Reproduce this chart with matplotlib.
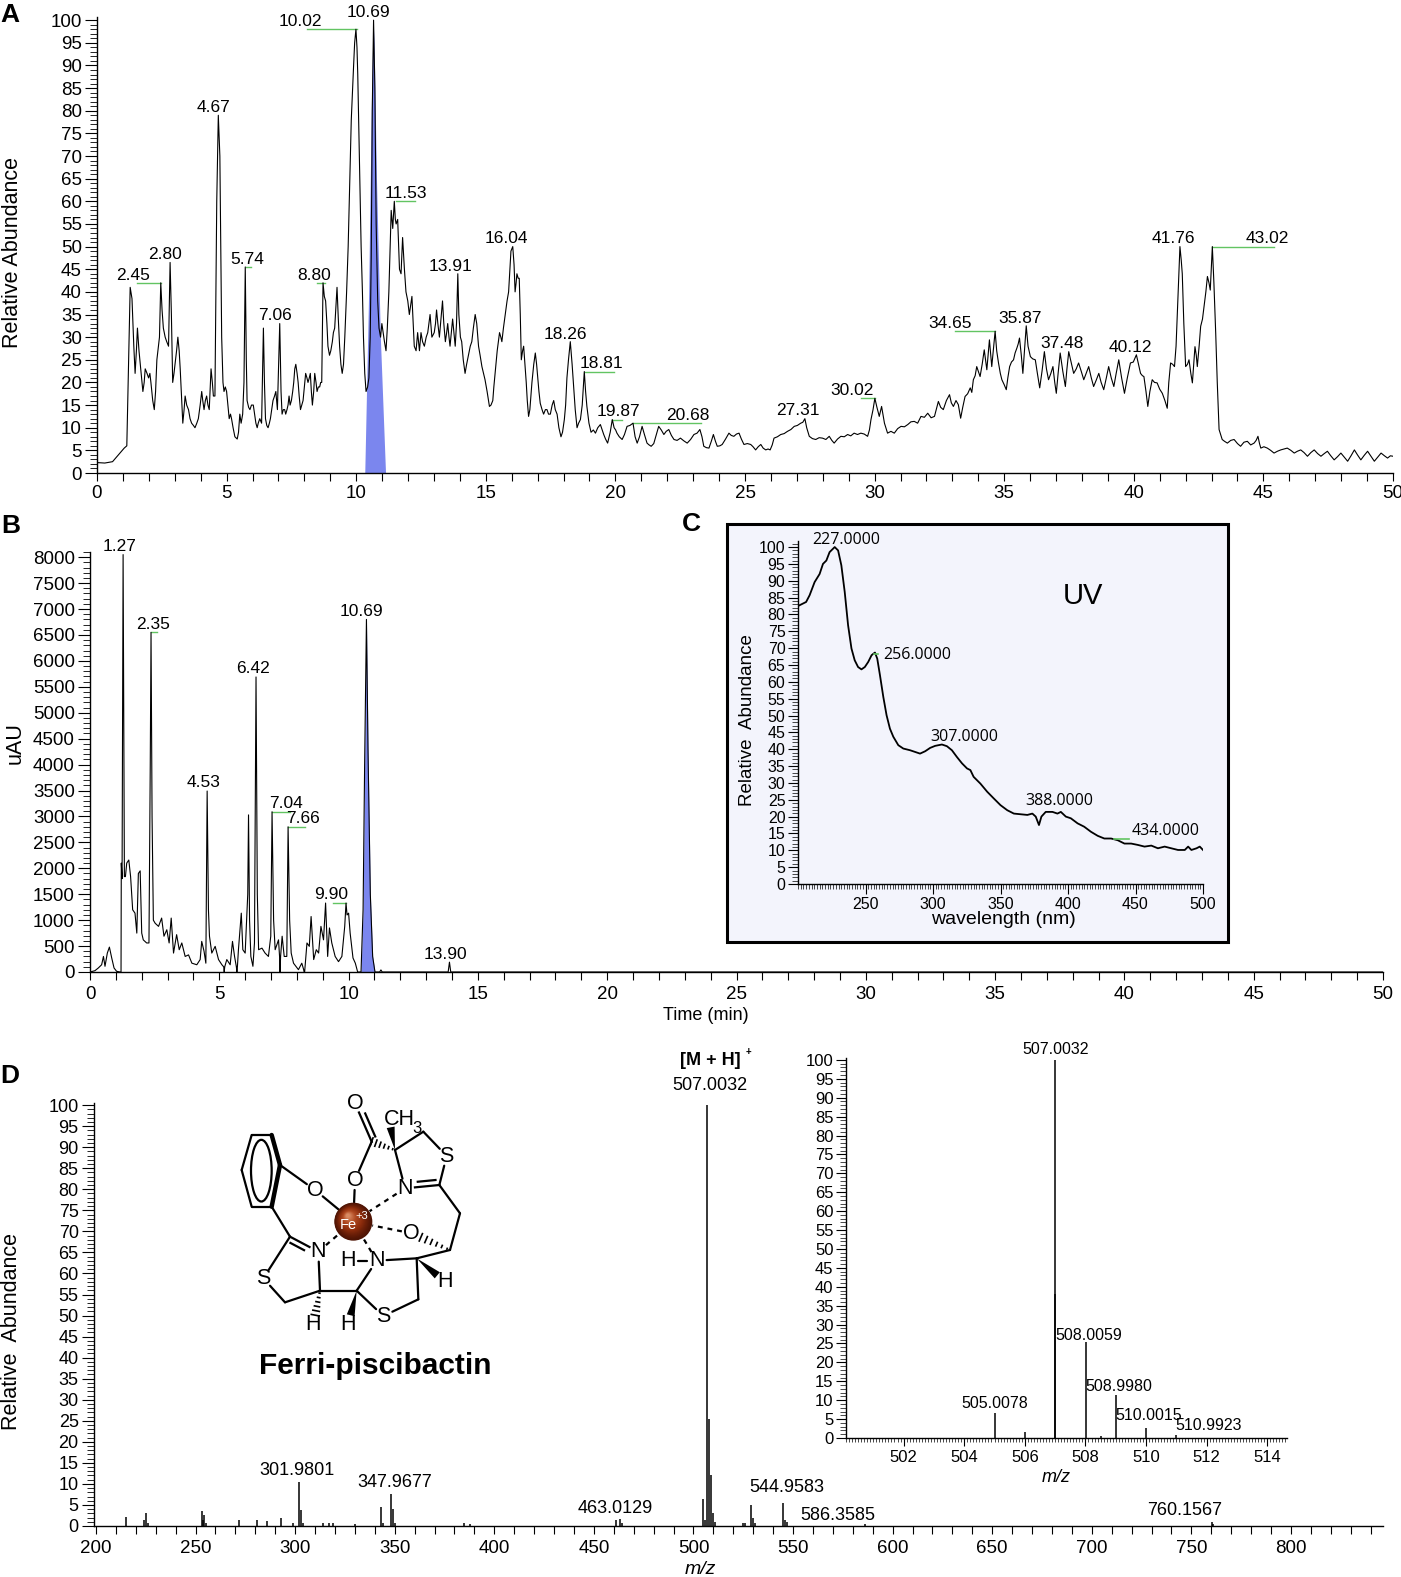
import numpy as np
import matplotlib
matplotlib.use("Agg")
import matplotlib.pyplot as plt
from matplotlib.ticker import MultipleLocator
from matplotlib.patches import Rectangle, Circle, Polygon, Ellipse
from matplotlib.colors import LinearSegmentedColormap

# ---------------- data: panel A (TIC, relative abundance vs time) ----------------
a_time = [0.0, 0.3, 0.6, 0.75, 0.95, 1.05, 1.15, 1.22, 1.28, 1.35, 1.42, 1.47, 1.52, 1.56, 1.62, 1.67, 1.72, 1.77,
          1.82, 1.86, 1.93, 1.99, 2.04, 2.08, 2.15, 2.21, 2.26, 2.31, 2.37, 2.41, 2.46, 2.51, 2.56, 2.63, 2.69, 2.76,
          2.82, 2.87, 2.92, 2.97, 3.01, 3.07, 3.12, 3.17, 3.21, 3.26, 3.31, 3.36, 3.40, 3.46, 3.53, 3.59, 3.65, 3.72,
          3.78, 3.85, 3.91, 3.98, 4.04, 4.08, 4.13, 4.18, 4.23, 4.28, 4.33, 4.40, 4.45, 4.49, 4.55, 4.62, 4.68, 4.74,
          4.81, 4.86, 4.90, 4.95, 5.00, 5.05, 5.10, 5.15, 5.19, 5.25, 5.32, 5.41, 5.46, 5.51, 5.56, 5.62, 5.67, 5.72,
          5.76, 5.79, 5.85, 5.90, 5.96, 6.03, 6.08, 6.13, 6.18, 6.22, 6.28, 6.35, 6.42, 6.46, 6.50, 6.55, 6.60, 6.65,
          6.69, 6.74, 6.79, 6.85, 6.90, 6.96, 7.05, 7.10, 7.14, 7.19, 7.24, 7.28, 7.33, 7.37, 7.41, 7.45, 7.50, 7.55,
          7.59, 7.63, 7.67, 7.72, 7.76, 7.80, 7.85, 7.90, 7.95, 8.00, 8.05, 8.10, 8.14, 8.19, 8.23, 8.27, 8.31, 8.36,
          8.40, 8.45, 8.49, 8.54, 8.59, 8.63, 8.67, 8.72, 8.77, 8.82, 8.87, 8.91, 8.97, 9.02, 9.08, 9.12, 9.17, 9.22,
          9.26, 9.31, 9.36, 9.41, 9.46, 9.51, 9.56, 9.63, 9.69, 9.75, 9.81, 9.86, 9.90, 9.94, 9.99, 10.03, 10.06,
          10.12, 10.19, 10.24, 10.28, 10.33, 10.38, 10.44, 10.49, 10.54, 10.58, 10.62, 10.67, 10.72, 10.77, 10.83,
          10.88, 10.94, 10.99, 11.04, 11.09, 11.15, 11.20, 11.26, 11.31, 11.35, 11.41, 11.47, 11.51, 11.54, 11.60,
          11.67, 11.73, 11.79, 11.86, 11.92, 11.99, 12.05, 12.10, 12.15, 12.20, 12.24, 12.31, 12.37, 12.44, 12.50,
          12.56, 12.63, 12.70, 12.76, 12.85, 12.92, 13.01, 13.06, 13.10, 13.15, 13.21, 13.27, 13.33, 13.38, 13.44,
          13.49, 13.53, 13.58, 13.62, 13.67, 13.72, 13.77, 13.82, 13.87, 13.92, 13.96, 14.02, 14.07, 14.13, 14.20,
          14.26, 14.33, 14.40, 14.46, 14.52, 14.59, 14.65, 14.72, 14.78, 14.85, 14.91, 14.97, 15.05, 15.14, 15.20,
          15.27, 15.31, 15.36, 15.44, 15.53, 15.58, 15.62, 15.68, 15.75, 15.82, 15.88, 15.93, 15.97, 16.04, 16.09,
          16.13, 16.17, 16.20, 16.25, 16.29, 16.33, 16.37, 16.42, 16.46, 16.51, 16.56, 16.60, 16.65, 16.70, 16.78,
          16.85, 16.91, 16.96, 17.01, 17.05, 17.10, 17.17, 17.23, 17.30, 17.36, 17.42, 17.49, 17.56, 17.62, 17.68,
          17.75, 17.82, 17.90, 17.96, 18.03, 18.08, 18.13, 18.19, 18.26, 18.33, 18.39, 18.45, 18.52, 18.58, 18.65,
          18.72, 18.80, 18.85, 18.90, 18.98, 19.06, 19.15, 19.23, 19.32, 19.42, 19.49, 19.55, 19.62, 19.70, 19.80,
          19.88, 19.95, 20.01, 20.06, 20.15, 20.26, 20.35, 20.45, 20.56, 20.68, 20.76, 20.84, 20.93, 21.03, 21.12,
          21.22, 21.30, 21.38, 21.48, 21.58, 21.67, 21.77, 21.87, 21.96, 22.06, 22.16, 22.26, 22.38, 22.51, 22.64,
          22.77, 22.90, 23.03, 23.15, 23.26, 23.34, 23.41, 23.51, 23.61, 23.70, 23.78, 23.86, 23.93, 24.03, 24.12,
          24.25, 24.38, 24.47, 24.57, 24.67, 24.77, 24.86, 24.96, 25.09, 25.22, 25.31, 25.41, 25.51, 25.61, 25.70,
          25.80, 25.89, 25.97, 26.05, 26.12, 26.25, 26.38, 26.51, 26.64, 26.77, 26.90, 27.02, 27.15, 27.23, 27.31,
          27.38, 27.48, 27.60, 27.73, 27.86, 27.99, 28.12, 28.25, 28.35, 28.44, 28.57, 28.70, 28.83, 28.96, 29.08,
          29.21, 29.34, 29.47, 29.60, 29.73, 29.80, 29.86, 29.94, 30.01, 30.09, 30.18, 30.27, 30.38, 30.50, 30.63,
          30.76, 30.89, 31.02, 31.15, 31.28, 31.40, 31.53, 31.66, 31.79, 31.92, 32.05, 32.18, 32.31, 32.46, 32.55,
          32.65, 32.77, 32.89, 32.96, 33.04, 33.14, 33.23, 33.32, 33.40, 33.49, 33.59, 33.69, 33.75, 33.81, 33.88,
          33.94, 34.00, 34.07, 34.15, 34.23, 34.28, 34.33, 34.38, 34.43, 34.48, 34.52, 34.58, 34.65, 34.71, 34.78,
          34.85, 34.91, 35.00, 35.08, 35.14, 35.21, 35.28, 35.36, 35.42, 35.49, 35.54, 35.59, 35.66, 35.72, 35.78,
          35.85, 35.92, 36.01, 36.10, 36.20, 36.28, 36.37, 36.46, 36.55, 36.63, 36.71, 36.80, 36.88, 36.95, 37.01,
          37.08, 37.16, 37.26, 37.36, 37.42, 37.49, 37.58, 37.68, 37.78, 37.87, 37.97, 38.07, 38.16, 38.26, 38.36,
          38.45, 38.55, 38.65, 38.74, 38.84, 38.94, 39.03, 39.13, 39.23, 39.32, 39.42, 39.53, 39.64, 39.75, 39.87,
          39.98, 40.10, 40.18, 40.26, 40.33, 40.39, 40.47, 40.54, 40.62, 40.71, 40.80, 40.90, 41.00, 41.10, 41.20,
          41.29, 41.35, 41.42, 41.50, 41.57, 41.63, 41.68, 41.73, 41.78, 41.83, 41.87, 41.93, 42.00, 42.07, 42.13,
          42.20, 42.26, 42.31, 42.36, 42.41, 42.45, 42.52, 42.58, 42.65, 42.71, 42.78, 42.84, 42.90, 42.95, 42.99,
          43.03, 43.09, 43.16, 43.22, 43.29, 43.35, 43.41, 43.50, 43.61, 43.74, 43.87, 44.00, 44.12, 44.25, 44.38,
          44.51, 44.64, 44.72, 44.79, 44.85, 44.90, 45.02, 45.15, 45.28, 45.41, 45.54, 45.67, 45.80, 45.92, 46.06,
          46.19, 46.31, 46.44, 46.57, 46.70, 46.83, 46.96, 47.09, 47.22, 47.35, 47.47, 47.60, 47.73, 47.86, 47.99,
          48.12, 48.25, 48.38, 48.51, 48.63, 48.76, 48.89, 49.02, 49.15, 49.28, 49.41, 49.54, 49.67, 49.79, 49.90,
          50.00]
a_abund = [2.3, 2.2, 2.5, 3.5, 4.8, 5.5, 6, 25, 41, 38.5, 28, 22, 27, 32, 27, 24, 21, 18,
           20, 23, 22, 21, 22, 20, 16, 14, 18, 25, 28, 30, 42, 36, 32, 30, 29, 28,
           46.5, 35, 20, 22, 24, 27, 30, 27, 23, 17, 11, 14, 17, 15, 14, 12, 11, 10.5,
           10, 11, 12, 15, 18, 16, 14, 16, 17, 15, 14, 23, 20, 17, 17, 60, 79, 70,
           30, 20, 18, 19, 18, 15, 12, 13, 12, 10, 8, 7.5, 9, 13, 11, 13, 20, 45.5,
           25, 16, 14.5, 14, 15, 15, 13, 11, 10, 11, 12, 11, 32, 20, 12, 10.5, 10, 11,
           12, 14, 16, 17, 18, 14, 33, 18, 13, 14, 14, 13, 14, 15, 17, 15, 16, 18,
           20, 23, 24, 22, 20, 17, 14, 15, 16, 19, 22, 21, 20, 21, 22, 18, 15, 18,
           22, 20, 18, 19, 19, 20, 20, 42, 39, 38, 33, 28, 26, 27, 29, 31, 32, 37,
           41, 34, 28, 24, 22, 24, 30, 40, 50, 64, 78, 85, 90, 95, 98, 94, 88,
           70, 50, 40, 30, 22, 18, 19, 21, 30, 48, 80, 100, 85, 55, 38,
           32, 30, 33, 31, 29, 27, 32, 40, 50, 58, 54, 60, 56, 55, 56,
           45, 44, 52, 45, 40, 38, 35, 37, 39, 33, 28, 27, 31, 27, 31,
           29, 28, 30, 31, 35, 30, 31, 33, 36, 33, 30, 34, 38, 33, 29,
           31, 33, 30, 28, 31, 34, 31, 28, 33, 44, 35, 30, 29, 25, 22,
           24, 26, 28, 29, 32, 35, 33, 28, 26, 23.5, 22, 20.6, 18, 14.7, 15,
           16, 19, 22, 27, 31, 30, 29, 32, 35, 38, 40, 45, 49, 50, 46,
           40, 42, 44, 43, 43, 35, 25, 27, 28, 24, 20, 16, 12.5, 14, 20,
           24, 26.5, 24, 20.6, 18, 15.4, 14, 13, 14, 14, 13, 13, 15, 16, 14,
           13, 10, 8, 9, 11.8, 15, 21, 25, 29, 24, 19, 14, 10, 11, 11.8,
           15, 22.4, 18, 14.7, 11, 9, 9.5, 8.8, 10, 10.7, 9.5, 8.5, 7.5, 6.6, 9,
           11.8, 10, 9.5, 8.8, 8, 7.4, 8.5, 10.3, 10.5, 11, 8, 6.6, 8, 10.3, 8.5,
           6.6, 6.2, 5.9, 6.5, 8.5, 10.3, 9.5, 8.5, 9.2, 9.6, 8.3, 7.4, 7.2, 7.7, 7.1,
           6.6, 7.4, 8.5, 8.8, 9.6, 8, 5.9, 5.6, 5.5, 7, 8.5, 7, 5.9, 6, 6.3,
           7.5, 8.8, 8.3, 8.1, 8.6, 8.8, 7.5, 6.3, 6.5, 6.3, 5.8, 5.1, 5.8, 6.3, 5.5,
           5.1, 5.3, 5.1, 6.2, 7.7, 8, 8.5, 8.7, 9.2, 9.6, 10.3, 10.5, 11, 11.2, 12,
           10, 8.1, 7.6, 7.4, 7.8, 7.7, 7.4, 8.1, 7.2, 6.6, 7.5, 8.1, 8, 8.5, 8.2,
           8.8, 8.5, 8.8, 8.6, 8.1, 9.5, 11.8, 14, 16.5, 14.5, 12.5, 14.7, 11, 8.8, 9.2,
           8.8, 9.8, 10.3, 10.2, 10.7, 11.3, 11.4, 11, 12.5, 12.3, 13.2, 12.2, 12.5, 15.8, 14.5,
           14, 16, 17.3, 15.5, 14.7, 16, 15.1, 12.1, 14.5, 16.9, 17.5, 18.8, 17.8, 20.6, 21.5,
           23.5, 22.5, 21.3, 24, 27.2, 25, 22.8, 26, 29.4, 26, 23.5, 27, 31.3, 27, 24.3,
           22, 20.6, 19.5, 18.4, 21, 23.5, 24.5, 25, 26.5, 27.6, 28.5, 29.8, 26, 22, 27,
           32.5, 28, 25.7, 25.2, 25, 22, 18.8, 22.5, 26.8, 23, 20.6, 22, 23.5, 20, 17.6,
           22, 26.5, 22.5, 19.1, 23, 26.8, 24.5, 22, 23, 24.3, 22.5, 20.6, 22, 23.5, 21,
           19.1, 20.5, 22, 20, 18.4, 21, 23.5, 21, 19.1, 22, 25, 21, 17.6, 21, 24.3,
           24.5, 26.1, 24, 22, 21.5, 21.3, 18, 14.7, 18, 20.6, 20, 19.9, 18.5, 17.6, 16,
           14.3, 20, 24.3, 24, 23.5, 28, 35.3, 43, 50, 47, 44, 33, 23.5, 24, 25,
           22, 19.9, 24, 27.9, 26, 23.5, 28, 32.4, 34, 36.8, 40, 43.4, 42, 40.4, 45,
           50, 42, 30.9, 20, 9.6, 8.5, 7.4, 7, 6.6, 7.2, 7.4, 6.5, 5.9, 6.8, 7,
           6.2, 6.6, 7.2, 8.1, 6.5, 5.5, 5.8, 5.5, 5, 4.4, 4.8, 5.1, 5.3, 5.5, 5,
           4.4, 4.8, 5.1, 4.5, 3.7, 4.5, 5.1, 4.3, 3.7, 4.3, 4.8, 3.8, 2.9, 3.6, 4.4,
           3.5, 2.6, 3.8, 5.1, 4, 2.9, 3.9, 4.8, 3.7, 2.6, 3.5, 4.4, 3.8, 3.3, 3.8,
           3.7]
# extracted peak (blue) under the 10.69 min trace
a_xic_time = [10.35, 10.50, 10.60, 10.67, 10.71, 10.80, 10.95, 11.15]
a_xic_abund = [0, 40, 80, 100, 95, 65, 30, 0]
a_peaks = [2.45, 2.80, 4.67, 5.74, 7.06, 8.80, 10.02, 10.69, 11.53, 13.91, 16.04, 18.26, 18.81,
           19.87, 20.68, 27.31, 30.02, 34.65, 35.87, 37.48, 40.12, 41.76, 43.02]

# ---------------- data: panel B (UV chromatogram, uAU) ----------------
b_time = [0.00, 0.19, 0.32, 0.45, 0.52, 0.58, 0.67, 0.75, 0.84, 0.93, 1.03, 1.16, 1.20, 1.21, 1.24, 1.28,
          1.33, 1.37, 1.42, 1.50, 1.57, 1.65, 1.74, 1.81, 1.87, 1.94, 2.00, 2.06, 2.19, 2.28, 2.33, 2.36,
          2.40, 2.45, 2.52, 2.65, 2.77, 2.86, 2.97, 3.06, 3.14, 3.23, 3.35, 3.45, 3.55, 3.68, 3.81, 3.94,
          4.13, 4.26, 4.32, 4.41, 4.48, 4.53, 4.58, 4.62, 4.71, 4.84, 4.97, 5.10, 5.17, 5.19, 5.21, 5.29,
          5.42, 5.51, 5.59, 5.66, 5.68, 5.70, 5.74, 5.85, 5.91, 6.00, 6.10, 6.13, 6.17, 6.22, 6.30, 6.36,
          6.42, 6.47, 6.52, 6.65, 6.77, 6.90, 6.99, 7.04, 7.10, 7.16, 7.29, 7.33, 7.35, 7.37, 7.43, 7.51,
          7.61, 7.66, 7.72, 7.78, 7.87, 8.06, 8.19, 8.26, 8.28, 8.30, 8.39, 8.48, 8.55, 8.65, 8.75, 8.84,
          8.93, 9.03, 9.11, 9.19, 9.26, 9.35, 9.48, 9.61, 9.74, 9.85, 9.90, 9.94, 10.00, 10.06, 10.17,
          10.26, 10.35, 10.48, 10.56, 10.62, 10.69, 10.75, 10.84, 10.93, 11.02, 11.20, 11.25, 11.30,
          13.85, 13.90, 13.95, 50.0]
b_uau = [0, 25, 77, 140, 300, 110, 365, 480, 270, 77, 13, 0, 0, 2100, 1800, 8050,
         1840, 1840, 2100, 2160, 1840, 1200, 1135, 750, 1900, 1950, 750, 620, 560, 560, 4000, 6550,
         3000, 1000, 940, 880, 1040, 690, 815, 560, 1040, 365, 720, 430, 560, 300, 330, 170,
         140, 240, 590, 400, 170, 3490, 1200, 690, 365, 495, 240, 140, 100, 0, 100, 240,
         140, 590, 300, 100, 0, 100, 430, 1135, 430, 365, 1500, 3030, 1000, 300, 110, 560,
         5690, 1500, 430, 460, 365, 300, 690, 3090, 1000, 430, 620, 300, 0, 300, 690, 300,
         300, 2800, 1000, 365, 170, 45, 170, 50, 0, 0, 560, 495, 1070, 240, 430, 365,
         880, 620, 1330, 300, 850, 560, 300, 200, 300, 880, 1330, 1100, 1135, 750, 270,
         170, 0, 0, 1200, 4000, 6800, 4300, 1500, 300, 0, 0, 40, 0,
         0, 190, 0, 0]
b_peaks = [1.28, 2.36, 4.53, 6.42, 7.04, 7.66, 9.90, 10.69, 13.90]
b_peak_names = ["1.27", "2.35", "4.53", "6.42", "7.04", "7.66", "9.90", "10.69", "13.90"]

# ---------------- data: panel C (UV spectrum) ----------------
uv_nm = [200, 206, 208.6, 212.3, 216, 218.5, 221, 223.4, 227.2, 229.7, 232.1, 234.6, 237.1, 239.6, 242,
         244.5, 247, 249.5, 252, 254.5, 257, 258.7, 260.7, 263.2, 265.6, 268.1, 270.6, 274.3, 278, 283,
         286.7, 290.4, 294.2, 297.9, 301.6, 306.6, 310.3, 314, 317.7, 321.5, 325.2, 327.7, 330.1, 335.1,
         340.1, 345, 350, 355, 359.9, 364.9, 369.9, 373.6, 376.1, 378.5, 380.3, 383.5, 388.5, 392.2, 394.7,
         398.4, 402.1, 407.1, 412, 417, 422, 426.9, 431.9, 436.8, 441.8, 446.8, 451.7, 456.7, 461.7, 466.6,
         471.6, 476.5, 481.5, 486.5, 489, 491.4, 495.2, 497.6, 500]
uv_abund = [82.5, 83.7, 85.7, 89.6, 92, 95, 96, 98.5, 100, 99, 94.6, 86.7, 76.8, 69.9, 66.4,
            64.4, 63.7, 64.4, 65.9, 67.9, 68.7, 66.9, 62, 55.5, 50.1, 46.1, 43.7, 41.2, 40.2, 39.7,
            39.2, 38.7, 39.4, 40.4, 41, 41.4, 40.9, 39.7, 37.7, 35.8, 34.3, 33.8, 31.8, 29.8,
            27.4, 25.4, 23.4, 21.9, 20.9, 20.7, 20.5, 20.9, 20, 17.5, 20, 21.4, 21.4, 20.9, 21.4,
            20, 19.5, 18, 17, 15.5, 14.3, 13.5, 13.5, 13, 12, 12, 11.6, 11.1, 11.4, 10.6,
            11.1, 10.6, 10.1, 10.1, 11.1, 10.1, 10.6, 11.1, 10.1]
uv_peaks = [227, 256, 307, 388, 434]

# ---------------- data: panel D (HRMS spectrum) ----------------
ms_mz = [214.9, 224.0, 225.0, 226.0, 253.0, 253.5, 254.0, 255.0, 272.0, 281.0, 286.0, 293.0, 299.0,
         301.98, 303.0, 304.0, 314.0, 317.0, 319.0, 330.0, 343.0, 344.0, 347.97, 349.0, 350.0, 385.0,
         388.0, 461.0, 463.01, 464.0, 505.0, 506.0, 507.0, 508.0, 509.0, 510.0, 511.0, 525.0, 526.0,
         529.0, 530.0, 531.0, 544.96, 546.0, 547.0, 586.36, 760.16, 761.0]
ms_abund = [2.2, 1.5, 3.0, 0.6, 3.5, 1.5, 2.5, 0.8, 1.5, 1.5, 1.3, 1.8, 0.6,
            10.5, 3.8, 0.8, 0.6, 0.8, 0.8, 0.5, 4.5, 0.7, 7.5, 4.0, 0.8, 0.6,
            0.5, 1.5, 1.6, 0.6, 6.5, 1.5, 100, 25.5, 12.0, 3.0, 1.0, 0.8, 0.6,
            5.0, 2.0, 0.8, 5.5, 1.5, 1.0, 0.4, 1.0, 0.4]
ms_labels = ["301.9801", "347.9677", "463.0129", "507.0032", "544.9583", "586.3585", "760.1567"]
iso_mz = [505.0078, 506.0, 506.98, 507.0032, 508.0059, 508.5, 508.9980, 510.0015, 510.9923]
iso_abund = [6.5, 1.7, 38, 100, 25.5, 0.4, 11.5, 2.7, 0.9]
iso_labels = ["505.0078", "507.0032", "508.0059", "508.9980", "510.0015", "510.9923"]

# ---------------- layout helpers ----------------
W, H = 1401, 1577
plt.rcParams["font.family"] = ["Liberation Sans", "DejaVu Sans"]
NARROW = ["Liberation Sans Narrow", "Liberation Sans", "DejaVu Sans"]
GREEN = "#62c462"
BLUE = "#7b86ee"

fig = plt.figure(figsize=(W / 100, H / 100), dpi=100)


def box(left, top, right, bottom):
    return [left / W, 1 - bottom / H, (right - left) / W, (bottom - top) / H]


def ftext(x, y, s, **kw):
    fig.text(x / W, 1 - y / H, s, **kw)


def clean(ax):
    ax.spines["top"].set_visible(False)
    ax.spines["right"].set_visible(False)
    for s in ("left", "bottom"):
        ax.spines[s].set_linewidth(1.0)
    ax.set_facecolor("none")


def local_max(t, xs, ys, win):
    xs, ys = np.asarray(xs), np.asarray(ys)
    m = (xs >= t - win) & (xs <= t + win)
    return ys[m].max()


# ================= panel A =================
ax_a = fig.add_axes(box(97, 17, 1393, 473))
clean(ax_a)
ax_a.fill(a_xic_time, a_xic_abund, color=BLUE, lw=0, zorder=1)
ax_a.plot(a_time, a_abund, color="black", lw=0.8, zorder=2)
ax_a.set_xlim(0, 50)
ax_a.set_ylim(0, 100.7)
ax_a.xaxis.set_major_locator(MultipleLocator(5))
ax_a.xaxis.set_minor_locator(MultipleLocator(1))
ax_a.yaxis.set_major_locator(MultipleLocator(5))
ax_a.yaxis.set_minor_locator(MultipleLocator(1))
ax_a.tick_params(axis="y", which="major", length=9, width=0.8, labelsize=13.5, pad=2, labelfontfamily=NARROW)
ax_a.tick_params(axis="y", which="minor", length=5, width=0.6)
ax_a.tick_params(axis="x", which="both", length=6, width=0.8, labelsize=13.5, pad=3, labelfontfamily=NARROW)

# label layout (text offset in min, other end of green leader or None)
a_dx = [-1.04, -0.18, -0.19, 0.04, -0.19, -0.43, -2.16, -0.23, 0.40, -0.28, -0.23, -0.19, 0.64,
        0.23, 2.10, -0.26, -0.90, -1.75, -0.26, -0.25, -0.24, -0.24, 2.15]
a_lead = [1.54, None, None, 5.93, None, 8.47, 8.09, None, 12.26, None, None, None, 19.94,
          20.26, 23.29, None, 29.47, 33.1, None, None, None, None, 45.41]
for t, dx, lead in zip(a_peaks, a_dx, a_lead):
    v = local_max(t, a_time, a_abund, 0.12)
    ax_a.text(t + dx, v + 0.7, f"{t:.2f}", ha="center", va="baseline", fontsize=12.5)
    if lead is not None:
        ax_a.plot([t, lead], [v, v], color=GREEN, lw=1.0, zorder=1)

ftext(13, 252, "Relative Abundance", rotation=90, ha="center", va="center", fontsize=15.5)
ftext(10, 15, "A", ha="center", va="center", fontsize=19, fontweight="bold")

# ================= panel B =================
ax_b = fig.add_axes(box(90, 552, 1383, 972))
clean(ax_b)
b_t = np.asarray(b_time)
b_v = np.asarray(b_uau)
sel = (b_t >= 10.45) & (b_t <= 11.05)
ax_b.fill_between(b_t[sel], 0, b_v[sel], color=BLUE, lw=0, zorder=1)
ax_b.plot(b_time, b_uau, color="black", lw=0.8, zorder=2)
ax_b.set_xlim(0, 50)
ax_b.set_ylim(0, 8100)
ax_b.xaxis.set_major_locator(MultipleLocator(5))
ax_b.xaxis.set_minor_locator(MultipleLocator(1))
ax_b.yaxis.set_major_locator(MultipleLocator(500))
ax_b.yaxis.set_minor_locator(MultipleLocator(100))
ax_b.tick_params(axis="y", which="major", length=9, width=0.8, labelsize=13.5, pad=2)
ax_b.tick_params(axis="y", which="minor", length=5, width=0.6)
ax_b.tick_params(axis="x", which="both", length=6, width=0.8, labelsize=13.5, pad=4)

b_dx = [-0.12, 0.08, -0.15, -0.12, 0.53, 0.56, -0.56, -0.19, -0.16]
b_lead = [None, 2.58, None, None, 7.73, 8.31, 9.41, None, None]
for t, name, dx, lead in zip(b_peaks, b_peak_names, b_dx, b_lead):
    v = local_max(t, b_time, b_uau, 0.06)
    ax_b.text(t + dx, v + 70, name, ha="center", va="baseline", fontsize=12.5)
    if lead is not None:
        ax_b.plot([t, lead], [v, v], color=GREEN, lw=1.0, zorder=1)

ftext(15, 743, "uAU", rotation=90, ha="center", va="center", fontsize=15.5)
ftext(706, 1015, "Time (min)", ha="center", va="center", fontsize=13)
ftext(11, 526, "B", ha="center", va="center", fontsize=19, fontweight="bold")

# ================= panel C (inset box) =================
frame = Rectangle((727 / W, 1 - 942 / H), (1228 - 727) / W, (942 - 524) / H, transform=fig.transFigure,
                  facecolor="#f3f4fc", edgecolor="black", lw=2.2, zorder=0.5)
fig.patches.append(frame)
ax_c = fig.add_axes(box(798, 541, 1203, 884), zorder=1)
clean(ax_c)
ax_c.plot(uv_nm, uv_abund, color="black", lw=1.3)
ax_c.set_xlim(200, 500)
ax_c.set_ylim(0, 101.8)
ax_c.xaxis.set_minor_locator(MultipleLocator(2))
ax_c.yaxis.set_major_locator(MultipleLocator(5))
ax_c.yaxis.set_minor_locator(MultipleLocator(1))
ax_c.set_xticks([250, 300, 350, 400, 450, 500])
ax_c.tick_params(axis="y", which="major", length=7, width=0.8, labelsize=11.5, pad=2)
ax_c.tick_params(axis="y", which="minor", length=4, width=0.5)
ax_c.tick_params(axis="x", which="major", length=7, width=0.8, labelsize=11.5, pad=2)
ax_c.tick_params(axis="x", which="minor", length=3.5, width=0.5)

c_dx = [9, 7, 16, 5.4, 12.8]
c_dy = [1.0, -1.6, 1.0, 2.0, 1.2]
c_ha = ["center", "left", "center", "center", "left"]
c_lead = [None, 259.5, None, None, 445.5]
for p, dx, dy, ha, lead in zip(uv_peaks, c_dx, c_dy, c_ha, c_lead):
    v = float(np.interp(p, uv_nm, uv_abund))
    ax_c.text(p + dx, v + dy, f"{p:.4f}", ha=ha, va="baseline", fontsize=11.5, family="Open Sans")
    if lead is not None:
        ax_c.plot([p, lead], [v, v], color=GREEN, lw=1.2)

ftext(748, 720, "Relative  Abundance", rotation=90, ha="center", va="center", fontsize=13.5)
ftext(1003, 919, "wavelength (nm)", ha="center", va="center", fontsize=14)
ftext(1083, 596, "UV", ha="center", va="center", fontsize=21)
ftext(691, 524, "C", ha="center", va="center", fontsize=19, fontweight="bold")

# ================= panel D =================
ax_d = fig.add_axes(box(94, 1103, 1383, 1526))
clean(ax_d)
ax_d.vlines(ms_mz, 0, ms_abund, color="black", lw=1.1)
ax_d.set_xlim(199, 846.2)
ax_d.set_ylim(0, 100.5)
ax_d.xaxis.set_major_locator(MultipleLocator(50))
ax_d.xaxis.set_minor_locator(MultipleLocator(10))
ax_d.yaxis.set_major_locator(MultipleLocator(5))
ax_d.yaxis.set_minor_locator(MultipleLocator(1))
ax_d.tick_params(axis="y", which="major", length=9, width=0.8, labelsize=13, pad=2, labelfontfamily=NARROW)
ax_d.tick_params(axis="y", which="minor", length=5, width=0.6)
ax_d.tick_params(axis="x", which="both", length=6, width=0.8, labelsize=13.5, pad=4, labelfontfamily=NARROW)

# label positions (m/z, abundance) of the peak captions
d_lab_x = [301.1, 350.2, 460.9, 508.4, 546.8, 572.6, 746.5]
d_lab_y = [12.0, 9.3, 3.0, 103.6, 8.0, 1.5, 2.7]
for s, x, y in zip(ms_labels, d_lab_x, d_lab_y):
    ax_d.text(x, y, s, ha="center", va="baseline", fontsize=13, family=NARROW, clip_on=False)
ax_d.text(508.4, 109.6, "[M + H]", ha="center", va="baseline", fontsize=13, fontweight="bold",
          family=NARROW, clip_on=False)
ax_d.text(527.5, 111.8, "+", ha="center", va="baseline", fontsize=7, fontweight="bold", clip_on=False)

ftext(12, 1332, "Relative  Abundance", rotation=90, ha="center", va="center", fontsize=15.5)
ftext(700, 1570, "m/z", ha="center", va="center", fontsize=14, style="italic", family=NARROW)
ftext(10, 1076, "D", ha="center", va="center", fontsize=19, fontweight="bold")

# ----- isotope inset -----
ax_i = fig.add_axes(box(846, 1058, 1287, 1438), zorder=1)
clean(ax_i)
ax_i.vlines(iso_mz, 0, iso_abund, color="black", lw=1.1)
ax_i.set_xlim(500.1, 514.65)
ax_i.set_ylim(0, 100.5)
ax_i.set_xticks([502, 504, 506, 508, 510, 512, 514])
ax_i.xaxis.set_minor_locator(MultipleLocator(0.1))
ax_i.yaxis.set_major_locator(MultipleLocator(5))
ax_i.yaxis.set_minor_locator(MultipleLocator(1))
ax_i.tick_params(axis="y", which="major", length=7, width=0.8, labelsize=12, pad=2, labelfontfamily=NARROW)
ax_i.tick_params(axis="y", which="minor", length=4, width=0.5)
ax_i.tick_params(axis="x", which="major", length=6, width=0.8, labelsize=12, pad=3, labelfontfamily=NARROW)
ax_i.tick_params(axis="x", which="minor", length=3, width=0.5)

i_lab_x = [505.0, 507.01, 508.1, 509.1, 510.1, 512.06]
i_lab_y = [8.0, 101.5, 26.0, 12.4, 4.8, 2.2]
for s, x, y in zip(iso_labels, i_lab_x, i_lab_y):
    ax_i.text(x, y, s, ha="center", va="baseline", fontsize=11.5, family=NARROW, clip_on=False)
ftext(1056, 1478, "m/z", ha="center", va="center", fontsize=13, style="italic", family=NARROW)

# ----- ferri-piscibactin structure drawing (coordinates in a 900x900 sketch box) -----
ax_s = fig.add_axes(box(220, 1070, 520, 1370), zorder=2)
ax_s.set_xlim(0, 900)
ax_s.set_ylim(900, 0)
ax_s.axis("off")

atoms = {
    "O1": (405, 100), "C1": (455, 215), "O2": (405, 330), "Cq": (525, 240), "Me": (512, 172),
    "Ct": (610, 185), "S1": (680, 258), "C2": (658, 345), "N1": (555, 355), "Cc1": (720, 430),
    "Cc2": (690, 540), "O3": (575, 490), "C4": (590, 565), "H4": (675, 635), "N2": (470, 572),
    "HN": (385, 572), "C5": (410, 662), "H5": (385, 765), "S2": (490, 738), "C6": (595, 688),
    "C7": (300, 662), "H7": (280, 765), "C8": (195, 697), "S3": (130, 625), "C9": (210, 500),
    "N3": (295, 545), "O4": (285, 360), "R1": (95, 195), "R2": (155, 195), "R3": (180, 285),
    "R4": (155, 410), "R5": (95, 410), "R6": (65, 300), "Fe": (400, 455),
}
labels = {"O1": "O", "O2": "O", "S1": "S", "N1": "N", "O3": "O", "H4": "H", "N2": "N", "HN": "H",
          "H5": "H", "S2": "S", "H7": "H", "S3": "S", "N3": "N", "O4": "O"}
trim = {k: 30 for k in labels}
trim["Fe"] = 58
bonds = [("C1", "O1", "double"), ("C1", "O2", "single"), ("Cq", "C1", "hash"), ("Cq", "Me", "wedge"),
         ("Cq", "Ct", "single"), ("Ct", "S1", "single"), ("S1", "C2", "single"), ("C2", "N1", "double"),
         ("N1", "Cq", "single"), ("C2", "Cc1", "single"), ("Cc1", "Cc2", "single"), ("Cc2", "O3", "hash"),
         ("Cc2", "C4", "single"), ("C4", "H4", "wedge"), ("C4", "N2", "single"), ("C4", "C6", "single"),
         ("C6", "S2", "single"), ("S2", "C5", "single"), ("C5", "N2", "single"), ("C5", "H5", "wedge"),
         ("C7", "C5", "single"), ("C7", "H7", "hash"), ("C7", "N3", "single"), ("C7", "C8", "single"),
         ("C8", "S3", "single"), ("S3", "C9", "single"), ("C9", "N3", "double"), ("C9", "R4", "single"),
         ("R3", "O4", "single"), ("HN", "N2", "single"),
         ("R1", "R2", "single"), ("R2", "R3", "bold"), ("R3", "R4", "bold"), ("R4", "R5", "single"),
         ("R5", "R6", "single"), ("R6", "R1", "single"),
         ("O2", "Fe", "single"), ("O4", "Fe", "single"), ("N1", "Fe", "dash"), ("O3", "Fe", "dash"),
         ("N3", "Fe", "dash"), ("N2", "Fe", "dash")]


def ends(a, b):
    p, q = np.array(atoms[a], float), np.array(atoms[b], float)
    d = q - p
    u = d / np.hypot(*d)
    return p + u * trim.get(a, 0), q - u * trim.get(b, 0), u


for a, b, kind in bonds:
    p, q, u = ends(a, b)
    n = np.array([-u[1], u[0]])
    if kind in ("single", "bold"):
        ax_s.plot([p[0], q[0]], [p[1], q[1]], color="black", lw=1.6 if kind == "single" else 3.2,
                  solid_capstyle="round")
    elif kind == "double":
        ax_s.plot([p[0], q[0]], [p[1], q[1]], color="black", lw=1.6)
        p2, q2 = p + n * 16 + u * 10, q + n * 16 - u * 10
        ax_s.plot([p2[0], q2[0]], [p2[1], q2[1]], color="black", lw=1.6)
    elif kind == "wedge":
        ax_s.add_patch(Polygon([p, q + n * 12, q - n * 12], closed=True, color="black", lw=0))
    elif kind == "hash":
        for f in np.linspace(0.1, 1.0, 6):
            c = p + (q - p) * f
            w = 12 * f
            ax_s.plot([c[0] - n[0] * w, c[0] + n[0] * w], [c[1] - n[1] * w, c[1] + n[1] * w],
                      color="black", lw=1.2)
    elif kind == "dash":
        ax_s.plot([p[0], q[0]], [p[1], q[1]], color="black", lw=1.6, dashes=(2.2, 2.2))

ax_s.add_patch(Ellipse((124, 302), 62, 185, fill=False, edgecolor="black", lw=1.6))
for name, s in labels.items():
    x, y = atoms[name]
    ax_s.text(x, y, s, ha="center", va="center", fontsize=15.5)
ax_s.text(492, 148, "CH", ha="left", va="center", fontsize=15.5)
ax_s.text(578, 176, "3", ha="left", va="center", fontsize=12)

# iron sphere: stacked discs give a shaded ball
fx, fy = atoms["Fe"]
ball = LinearSegmentedColormap.from_list("ball", ["#4e1404", "#8c2c0c", "#b14a22", "#d98a62"])
for k in range(30):
    f = k / 29
    r = 57 * (1 - 0.9 * f)
    ax_s.add_patch(Circle((fx - 16 * f, fy - 18 * f), r, color=ball(f ** 1.3), lw=0, zorder=3))
ax_s.text(fx - 16, fy + 10, "Fe", ha="center", va="center", fontsize=10.5, color="white", zorder=4)
ax_s.text(fx + 26, fy - 16, "+3", ha="center", va="center", fontsize=8, color="white", zorder=4)
ftext(375, 1366, "Ferri-piscibactin", ha="center", va="center", fontsize=21.5, fontweight="bold")

fig.savefig("out.png", dpi=100)
